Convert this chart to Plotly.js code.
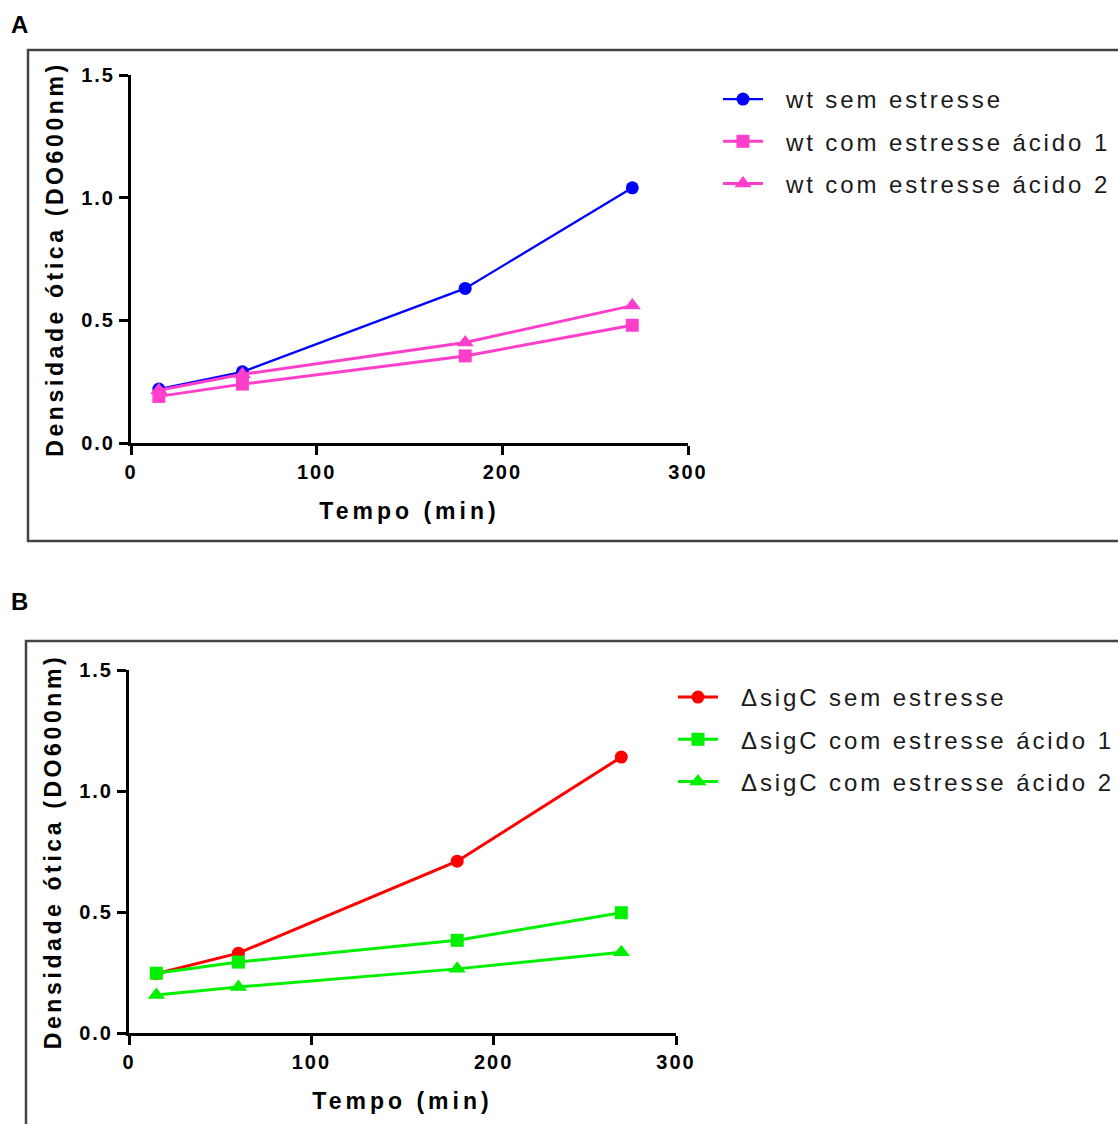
<!DOCTYPE html>
<html>
<head>
<meta charset="utf-8">
<script src="https://cdn.plot.ly/plotly-3.0.1.min.js"></script>
<style>
  html, body { margin: 0; padding: 0; background: #fff; }
  #chart { width: 1118px; height: 1124px; }
  text.legendtext, text.legend2text { letter-spacing: 2.9px; transform: translate(18px, 0); }
  g.legend g, g.legend2 g { clip-path: none !important; }
  .ytitle, .y2title { letter-spacing: 3.6px; }
  .xtitle, .x2title { letter-spacing: 4px; }
  .xtick text, .ytick text, .x2tick text, .y2tick text { letter-spacing: 2px; }
</style>
</head>
<body>
<div id="chart"></div>
<script>
// ---- Data ----
const tempo = [15, 60, 180, 270];

// Panel A (wild type)
const namesA = ["wt sem estresse", "wt com estresse ácido 1", "wt com estresse ácido 2"];
const wtSemEstresse = [0.22, 0.29, 0.63, 1.04];
const wtAcido1 = [0.19, 0.24, 0.355, 0.48];
const wtAcido2 = [0.215, 0.28, 0.41, 0.56];

// Panel B (ΔsigC)
const namesB = ["\u0394sigC sem estresse", "\u0394sigC com estresse ácido 1", "\u0394sigC com estresse ácido 2"];
const sigCSemEstresse = [0.245, 0.33, 0.71, 1.14];
const sigCAcido1 = [0.247, 0.293, 0.383, 0.497];
const sigCAcido2 = [0.157, 0.19, 0.265, 0.334];

const xTitle = "Tempo (min)";
const yTitle = "Densidade ótica (DO600nm)";
const panelLabels = ["A", "B"];

// ---- Figure ----
const W = 1118, H = 1124;
const px = v => v / W;          // horizontal pixel -> paper
const py = v => 1 - v / H;      // vertical pixel (from top) -> paper

const FONT = "Liberation Sans, Arial, sans-serif";
const BLUE = "#0000ff", PINK = "#ff3fcc", RED = "#ff0000", GREEN = "#00f000";

function trace(y, name, color, symbol, size, lw, xa, ya, legend, grp) {
  return {
    x: tempo, y: y, name: name, type: "scatter", mode: "lines+markers",
    xaxis: xa, yaxis: ya, legend: legend, legendgroup: grp,
    line: { color: color, width: lw },
    marker: { color: color, symbol: symbol, size: size }
  };
}

const data = [
  trace(wtSemEstresse, namesA[0], BLUE, "circle", 13, 2.3, "x", "y", "legend", "a1"),
  trace(wtAcido1, namesA[1], PINK, "square", 13, 3, "x", "y", "legend", "a2"),
  trace(wtAcido2, namesA[2], PINK, "triangle-up", 15, 3, "x", "y", "legend", "a3"),
  trace(sigCSemEstresse, namesB[0], RED, "circle", 13, 3, "x2", "y2", "legend2", "b1"),
  trace(sigCAcido1, namesB[1], GREEN, "square", 13, 3, "x2", "y2", "legend2", "b2"),
  trace(sigCAcido2, namesB[2], GREEN, "triangle-up", 15, 3, "x2", "y2", "legend2", "b3")
];

const tickFont = { family: FONT, size: 20, weight: "bold", color: "#000" };
const titleFont = { family: FONT, size: 23, weight: "bold", color: "#000" };

function xAxis(domain, anchor) {
  return {
    domain: domain, anchor: anchor, range: [0, 300], dtick: 100, tick0: 0,
    showgrid: false, zeroline: false, showline: true, linecolor: "#000", linewidth: 3,
    ticks: "outside", ticklen: 9, tickwidth: 3, tickcolor: "#000",
    tickfont: tickFont, fixedrange: true,
    title: { text: xTitle, font: titleFont, standoff: 21 }
  };
}
function yAxis(domain, anchor) {
  return {
    domain: domain, anchor: anchor, range: [0, 1.5], dtick: 0.5, tick0: 0, tickformat: ".1f",
    showgrid: false, zeroline: false, showline: true, linecolor: "#000", linewidth: 3,
    ticks: "outside", ticklen: 9, tickwidth: 3, tickcolor: "#000",
    tickfont: tickFont, fixedrange: true,
    title: { text: yTitle, font: titleFont, standoff: 12 }
  };
}

const legendFont = { family: FONT, size: 24, color: "#1a1a1a" };

const layout = {
  width: W, height: H,
  margin: { l: 0, r: 0, t: 0, b: 0 },
  paper_bgcolor: "#fff", plot_bgcolor: "rgba(0,0,0,0)",
  showlegend: true,
  xaxis: xAxis([px(131), px(688)], "y"),
  yaxis: yAxis([py(443), py(75)], "x"),
  xaxis2: xAxis([px(129), px(676)], "y2"),
  yaxis2: yAxis([py(1033), py(670)], "x2"),
  legend: {
    x: px(718), y: py(77), xanchor: "left", yanchor: "top",
    font: legendFont, bgcolor: "rgba(0,0,0,0)", borderwidth: 0,
    itemwidth: 40, tracegroupgap: 8, traceorder: "grouped"
  },
  legend2: {
    x: px(673), y: py(675), xanchor: "left", yanchor: "top",
    font: legendFont, bgcolor: "rgba(0,0,0,0)", borderwidth: 0,
    itemwidth: 40, tracegroupgap: 8, traceorder: "grouped"
  },
  shapes: [
    { type: "rect", xref: "paper", yref: "paper", x0: px(28), x1: 1.05, y0: py(541), y1: py(50),
      line: { color: "#444", width: 2.5 }, fillcolor: "rgba(0,0,0,0)", layer: "below" },
    { type: "rect", xref: "paper", yref: "paper", x0: px(26), x1: 1.05, y0: -0.05, y1: py(641),
      line: { color: "#444", width: 2.5 }, fillcolor: "rgba(0,0,0,0)", layer: "below" }
  ],
  annotations: [
    { text: panelLabels[0], xref: "paper", yref: "paper", x: px(9), y: py(25), xanchor: "left", yanchor: "middle",
      showarrow: false, font: { family: FONT, size: 24, weight: "bold", color: "#000" } },
    { text: panelLabels[1], xref: "paper", yref: "paper", x: px(9), y: py(601), xanchor: "left", yanchor: "middle",
      showarrow: false, font: { family: FONT, size: 24, weight: "bold", color: "#000" } }
  ]
};

Plotly.newPlot("chart", data, layout, { displayModeBar: false, staticPlot: true });
</script>
</body>
</html>
